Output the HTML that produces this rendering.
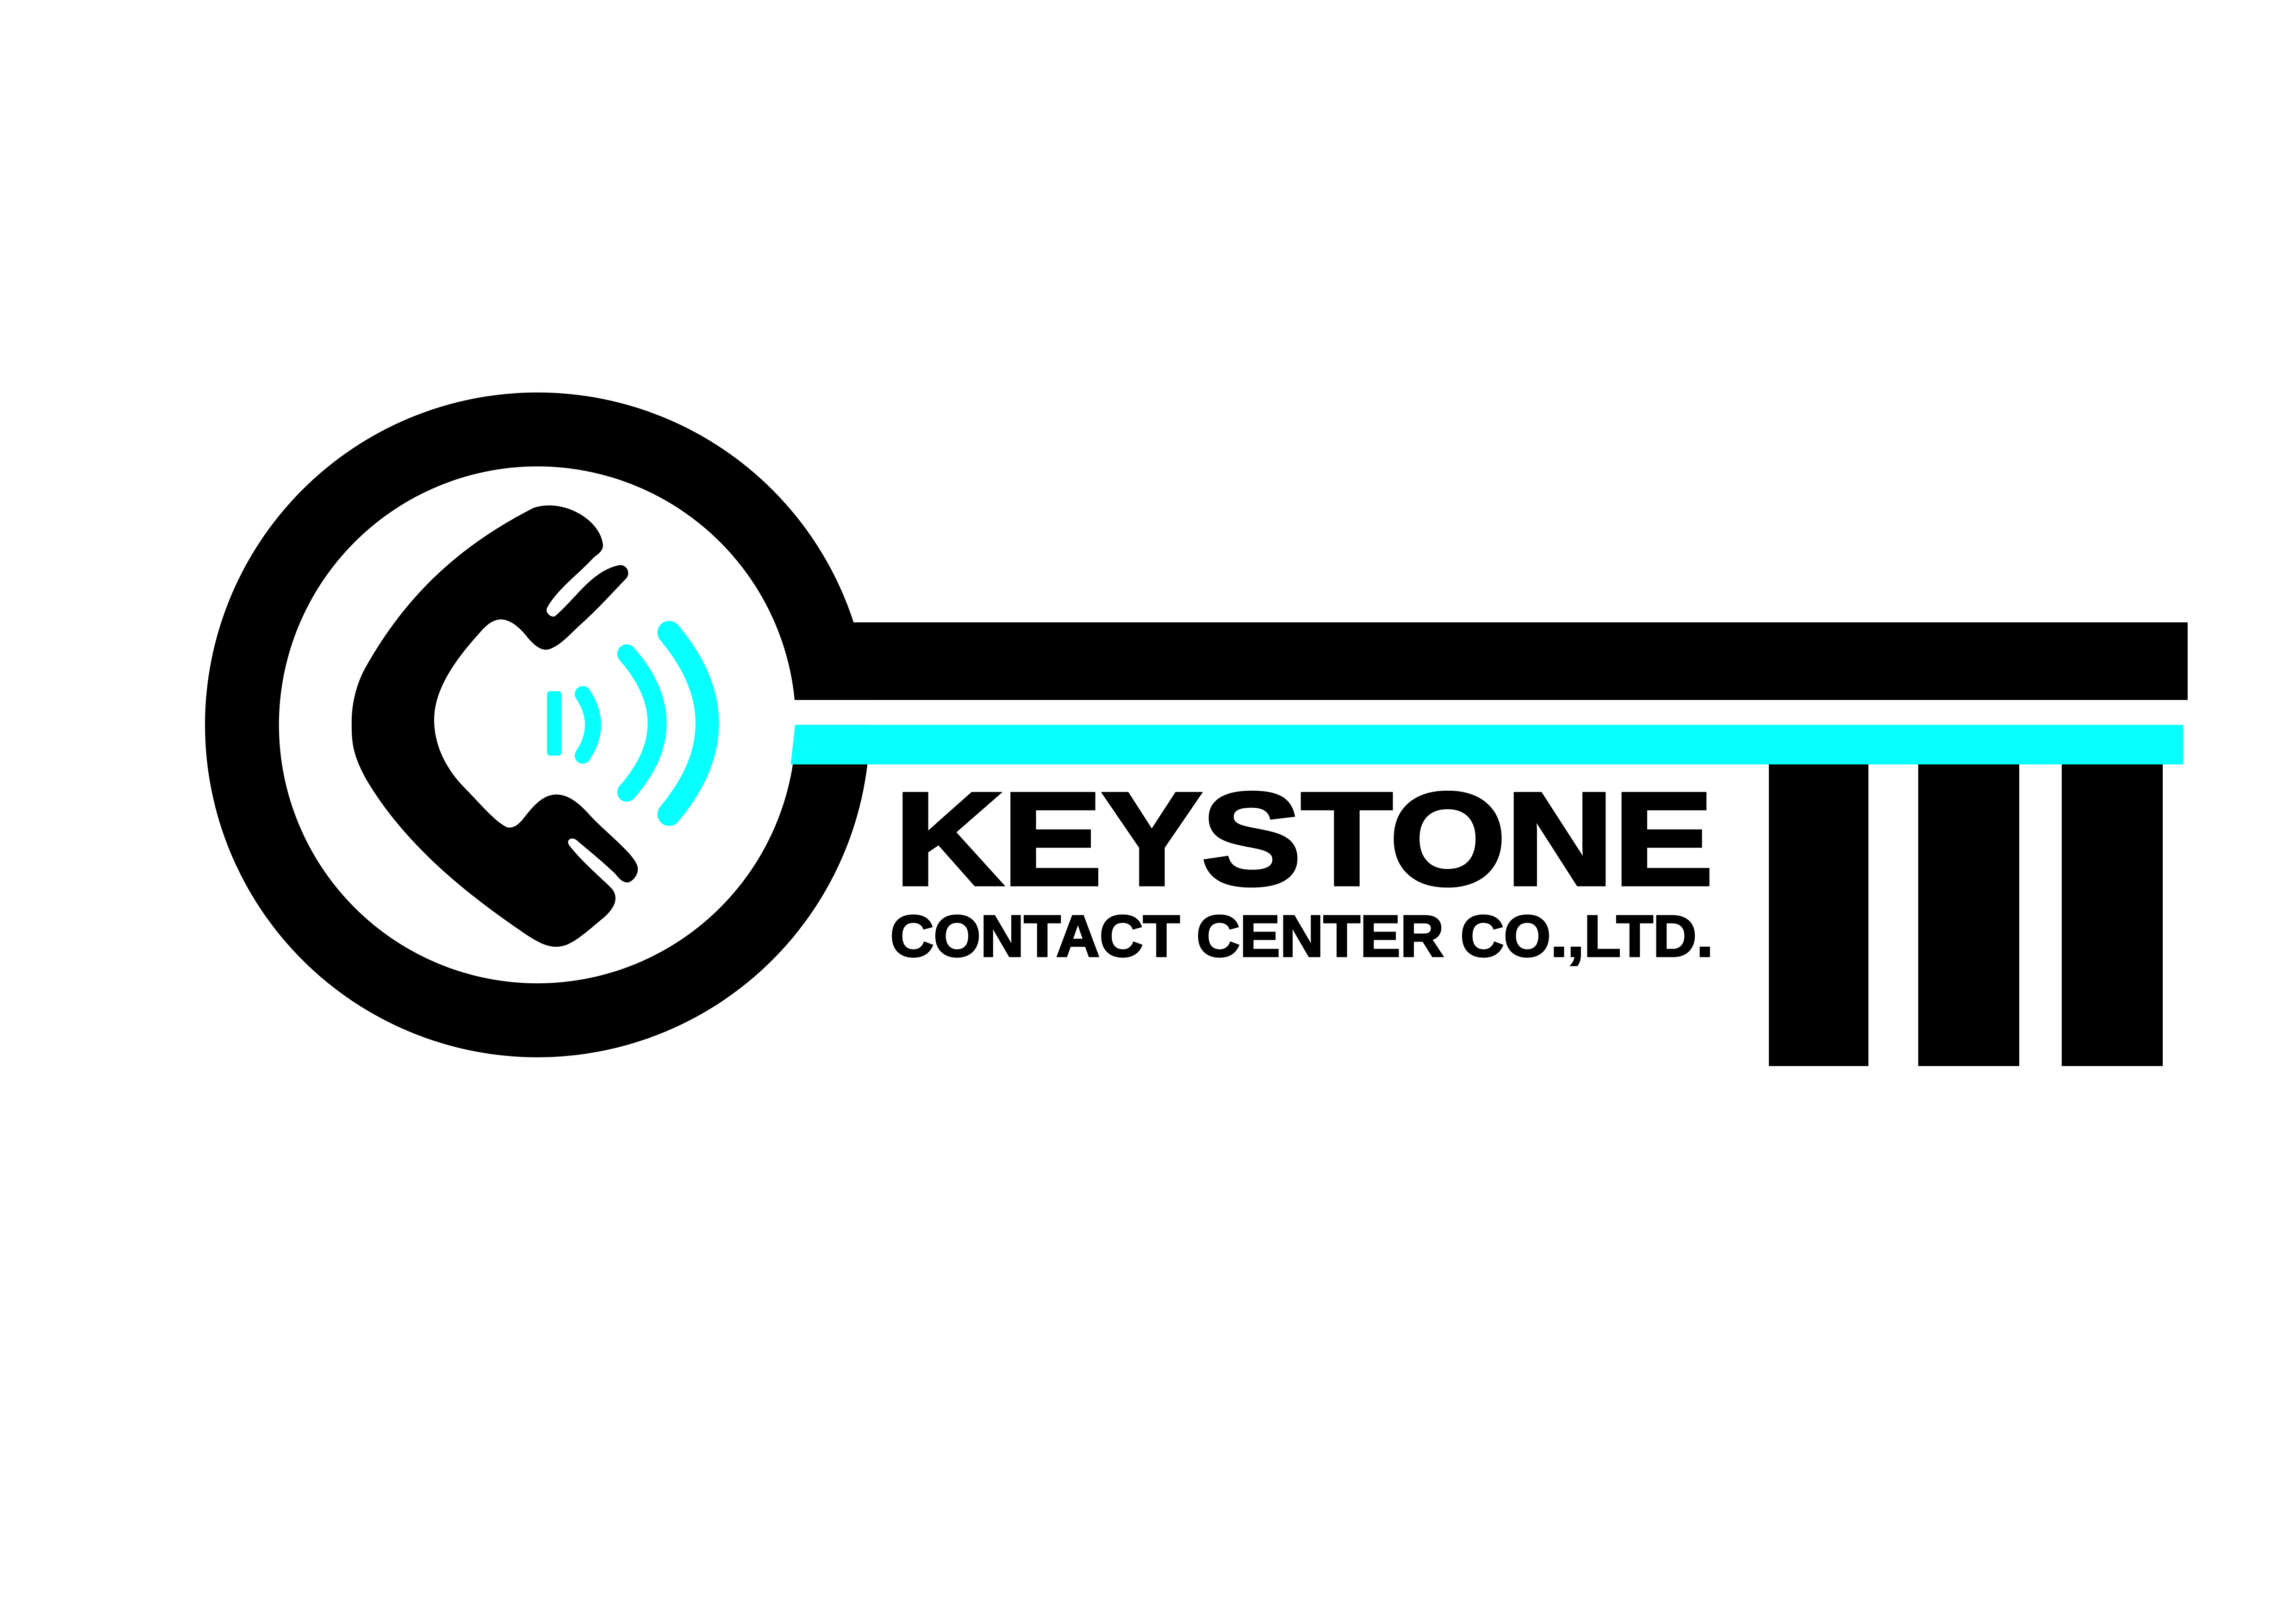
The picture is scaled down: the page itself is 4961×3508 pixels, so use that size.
<!DOCTYPE html>
<html><head><meta charset="utf-8"><style>
html,body{margin:0;padding:0;background:#fff;}
svg{display:block;}
</style></head><body>
<svg width="4961" height="3508" viewBox="0 0 1568 1109" preserveAspectRatio="none" xmlns="http://www.w3.org/2000/svg">
<rect width="1568" height="1109" fill="#fff"/>
<circle cx="367" cy="495" r="227" fill="#000"/>
<rect x="560" y="425" width="934" height="53" fill="#000"/>
<circle cx="367" cy="495" r="176.5" fill="#fff"/>
<rect x="541" y="478" width="960" height="17" fill="#fff"/>
<polygon points="543,495 1491,495 1491,522 540,522" fill="#07fffd"/>
<rect x="1208" y="522" width="68" height="206" fill="#000"/>
<rect x="1310" y="522" width="69" height="206" fill="#000"/>
<rect x="1408" y="522" width="69" height="206" fill="#000"/>
<path fill="#000" d="M364.4,346.8 C385,340 410,355 411.8,372.1 C412,377 407,379 404.6,381.6 C394,393 381,402 373.6,415 C372,419 377,422 379,420.8 C393,409 404,390 422.6,386 C427,385 431,390 428,394.6 C418,405 410,414 399.2,424 C390,432 384,440 375.5,443.2 C368,446 361,436 357.2,431.6 C351,425 346,423 342,423 C336,423 331,428 326.5,433.4 C306,456 296,475 296.5,492.9 C297,511 306,526 315.4,536 C330,551 338,561 346.4,565 C352,566 356,561 359,557 C366,548 372,543 379,542.6 C388,542 396,549 402.6,556.4 C412,567 432,582 435.2,591 C437,597 432,602 428.9,602.6 C424,603 421,597 419,595.6 C410,587 401,580 393.5,573.5 C390,571 386,574 389,577.6 C398,589 410,599 417,606 C423,612 421,620 410,628.5 C393,643 388,646 380.8,646.5 C372,647 364,641 359,638 C330,618 280,583 250,532 C240,514 240,505 240.2,489.7 C241,474 246,462 250.3,454.6 C274,413 307,376 364.4,346.8 Z"/>
<rect x="373.6" y="472" width="9.8" height="44" rx="2" fill="#07fffd"/>
<path d="M398,474 Q412,495 398,516" stroke="#07fffd" stroke-width="11" fill="none" stroke-linecap="round"/>
<path d="M428,446.5 Q469.6,494 428,541" stroke="#07fffd" stroke-width="13" fill="none" stroke-linecap="round"/>
<path d="M457,432 Q509,494 457,556" stroke="#07fffd" stroke-width="16" fill="none" stroke-linecap="round"/>
<text x="611" y="604" font-family="Liberation Sans, Arial, sans-serif" font-weight="bold" font-size="90" textLength="559" lengthAdjust="spacingAndGlyphs" fill="#000" stroke="#000" stroke-width="2.5">KEYSTONE</text>
<text x="608" y="653" font-family="Liberation Sans, Arial, sans-serif" font-weight="bold" font-size="40" textLength="562" lengthAdjust="spacingAndGlyphs" fill="#000" stroke="#000" stroke-width="1.2">CONTACT CENTER CO.,LTD.</text>
</svg>
</body></html>
